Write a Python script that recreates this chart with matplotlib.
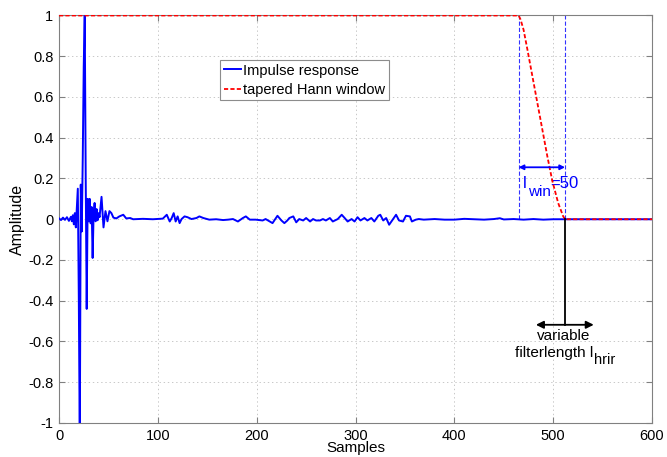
import matplotlib
matplotlib.use("Agg")
import matplotlib.pyplot as plt

plt.rcParams['font.family'] = ['Liberation Sans', 'DejaVu Sans']
plt.rcParams['lines.scale_dashes'] = False

# ---------------- data ----------------
ir_samples = [0, 2, 4, 6, 8, 10, 12, 13, 14, 15, 16, 17, 18, 19, 20, 21, 22, 23, 24, 25,
              26, 27, 28, 29, 30, 31, 32, 33, 34, 35, 36, 37, 38, 39, 40, 41, 43, 45, 47,
              49, 51, 53, 55, 58, 61, 65, 68, 72, 75, 85, 95, 105, 109, 112, 114, 116, 118,
              120, 122, 124, 127, 130, 134, 139, 142, 146, 152, 159, 166, 171, 176, 181,
              186, 189, 193, 199, 206, 209, 216, 221, 225, 228, 231, 233, 237, 240, 243,
              247, 250, 254, 257, 260, 264, 267, 270, 274, 277, 282, 286, 289, 292, 296,
              299, 302, 305, 309, 312, 316, 319, 323, 325, 328, 331, 334, 338, 341, 344,
              348, 351, 355, 357, 361, 364, 369, 380, 390, 400, 410, 420, 430, 440, 446,
              450, 460, 470, 480, 490, 500, 512, 600]
ir_values = [0.004, -0.004, 0.008, -0.003, 0.01, -0.008, 0.012, -0.01, 0.02, -0.025, 0.03,
             -0.04, 0.05, 0.15, -0.38, -1.1, 0.17, -0.06, 0.3, 0.75,
             1.0, 0.2, -0.44, 0.1, -0.01, 0.1, -0.02, 0.06, -0.19, 0.03, 0.08, -0.01, 0.05,
             -0.005, 0.03, 0.01, 0.11, -0.04, 0.04,
             -0.01, 0.04, 0.03, 0.008, 0.004, 0.014, 0.022, 0.004, 0.006, 0.0, 0.002, 0.0,
             0.003, 0.022, -0.011, 0.006, 0.03, -0.011,
             0.014, -0.019, 0.001, 0.014, 0.01, 0.001, 0.006, 0.014, 0.006, -0.002, 0.0,
             -0.004, -0.002, 0.001, -0.011,
             0.006, 0.014, -0.002, -0.002, -0.006, 0.001, -0.019, 0.017, -0.006, -0.019,
             -0.006, 0.006, 0.014, -0.015, 0.001,
             -0.006, 0.006, -0.011, 0.001, -0.006, -0.006, 0.001, -0.006, 0.006, -0.011,
             0.001, 0.022, 0.006, -0.011, 0.001,
             -0.011, 0.01, -0.006, 0.006, -0.006, 0.006, -0.011, 0.017, 0.022, -0.006,
             0.006, -0.027, 0.001, 0.022, -0.006,
             -0.011, 0.017, 0.014, -0.011, -0.002, 0.001, -0.002, 0.001, -0.002, -0.002,
             0.002, 0.0, -0.002, 0.001, 0.005,
             -0.001, 0.001, -0.002, 0.001, -0.002, 0.0, 0.0, 0.0]

win_samples = [0, 465, 467, 470, 474, 479, 484, 489, 494, 499, 505, 510, 512, 600]
win_values = [1.0, 1.0, 0.98, 0.93, 0.83, 0.70, 0.57, 0.44, 0.31, 0.19, 0.08, 0.015, 0.0, 0.0]

taper_start = 465
taper_end = 512
lwin_arrow_y = 0.255
filter_arrow = (482.5, 541)
filter_arrow_y = -0.518

xticks = [0, 100, 200, 300, 400, 500, 600]
yticks = [-1, -0.8, -0.6, -0.4, -0.2, 0, 0.2, 0.4, 0.6, 0.8, 1]
yticklabels = ['-1', '-0.8', '-0.6', '-0.4', '-0.2', '0', '0.2', '0.4', '0.6', '0.8', '1']

# ---------------- figure ----------------
fig = plt.figure(figsize=(6.67, 4.57), dpi=100)
ax = fig.add_axes([0.0885, 0.0744, 0.8891, 0.8917])

spine_col = '0.5'
ax.plot(ir_samples, ir_values, color='#0000ff', lw=1.4, label='Impulse response', zorder=3)
ax.plot(win_samples, win_values, color='#ff0000', lw=1.3, dashes=(3.0, 1.6),
        label='tapered Hann window', zorder=4)

# dashed taper boundaries
for xv in (taper_start, taper_end):
    ax.plot([xv, xv], [0, 1], color='#3333ff', lw=0.8, dashes=(3.0, 1.5), zorder=2)

# l_win arrow
ax.annotate('', xy=(taper_start, lwin_arrow_y), xytext=(taper_end, lwin_arrow_y),
            arrowprops=dict(arrowstyle='<|-|>', color='#0000ff', lw=1.3,
                            mutation_scale=7, shrinkA=0, shrinkB=0), zorder=5)

# black filter length line + arrow
ax.plot([taper_end, taper_end], [0, filter_arrow_y], color='k', lw=1.3, zorder=5)
ax.annotate('', xy=(filter_arrow[0], filter_arrow_y), xytext=(filter_arrow[1], filter_arrow_y),
            arrowprops=dict(arrowstyle='<|-|>', color='k', lw=1.3,
                            mutation_scale=11, shrinkA=0, shrinkB=0), zorder=5)

ax.set_xlim(0, 600)
ax.set_ylim(-1, 1)
ax.set_xticks(xticks)
ax.set_yticks(yticks)
ax.set_yticklabels(yticklabels)
ax.tick_params(direction='in', length=4, width=0.8, color=spine_col, labelsize=10.5,
               top=True, right=True, pad=4)
for s in ax.spines.values():
    s.set_color(spine_col)
    s.set_linewidth(0.8)
ax.grid(True, color='#c8c8c8', lw=0.7, linestyle=(0, (1, 2)))
ax.set_axisbelow(True)

ax.set_xlabel('Samples', fontsize=11, labelpad=-1)
ax.set_ylabel('Amplitude', fontsize=11.5, labelpad=2)

leg = ax.legend(loc='upper left', bbox_to_anchor=(0.2715, 0.891), borderaxespad=0,
                fontsize=10.5, handlelength=1.2, handletextpad=0.15, labelspacing=0.35,
                borderpad=0.25, fancybox=False, framealpha=1, edgecolor='0.55')
leg.get_frame().set_linewidth(0.8)

# texts
t_l = ax.text(469.5, 0.155, 'l', color='#0000ff', fontsize=12, va='baseline', ha='left')
t_var = ax.text(511, -0.592, 'variable', color='k', fontsize=11, va='baseline', ha='center')
t_fl = ax.text(461.6, -0.674, 'filterlength l', color='k', fontsize=11, va='baseline', ha='left')
fig.canvas.draw()
inv = ax.transData.inverted()
bb = t_l.get_window_extent()
x_end = inv.transform((bb.x1, bb.y0))[0]
t_win = ax.text(x_end + 1, 0.112, 'win', color='#0000ff', fontsize=11, va='baseline', ha='left')
fig.canvas.draw()
bb2 = t_win.get_window_extent()
x_end2 = inv.transform((bb2.x1, bb2.y0))[0]
ax.text(x_end2 - 0.5, 0.155, '=50', color='#0000ff', fontsize=12, va='baseline', ha='left')
bb3 = t_fl.get_window_extent()
x_end3 = inv.transform((bb3.x1, bb3.y0))[0]
ax.text(x_end3 + 0.5, -0.71, 'hrir', color='k', fontsize=10.5, va='baseline', ha='left')

fig.savefig('out.png', dpi=100)
